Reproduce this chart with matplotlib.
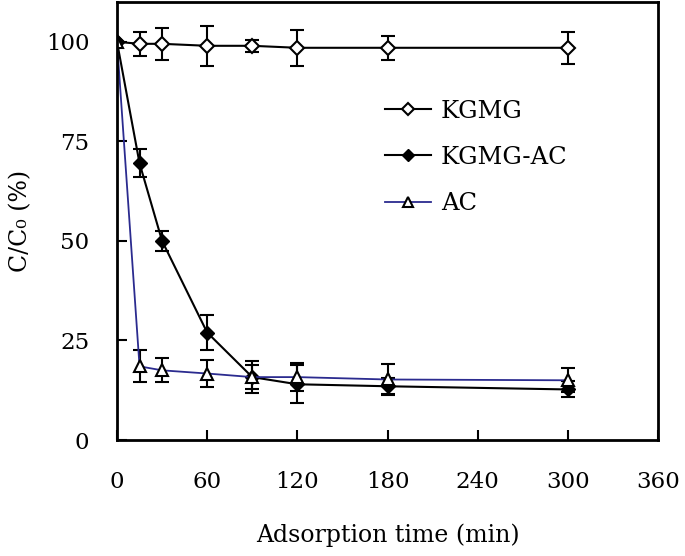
import matplotlib
matplotlib.use('Agg')
import matplotlib.pyplot as plt

plt.rcParams['font.family'] = ['DejaVu Serif']

time = [0, 15, 30, 60, 90, 120, 180, 300]

kgmg = [100, 99.5, 99.5, 99, 99, 98.5, 98.5, 98.5]
kgmg_err = [0, 3, 4, 5, 1.5, 4.5, 3, 4]

kgmg_ac = [100, 69.5, 50, 27, 15.8, 14, 13.5, 12.7]
kgmg_ac_err = [0, 3.5, 2.5, 4.5, 4, 4.8, 2, 2]

ac = [100, 18.5, 17.5, 16.7, 15.8, 15.8, 15.2, 15]
ac_err = [0, 4, 3, 3.5, 3, 3.5, 3.9, 3]

fig = plt.figure(figsize=(6.85, 5.56), dpi=100)
ax = fig.add_axes([0.1708, 0.2086, 0.7898, 0.7878])

e1 = ax.errorbar(time, kgmg, yerr=kgmg_err, color='black', marker='D', markersize=7,
                 markerfacecolor='white', markeredgecolor='black', markeredgewidth=1.5,
                 lw=1.5, ecolor='black', elinewidth=1.5, capsize=5, capthick=1.5)
e2 = ax.errorbar(time, kgmg_ac, yerr=kgmg_ac_err, color='black', marker='D', markersize=7,
                 markerfacecolor='black', markeredgecolor='black',
                 lw=1.5, ecolor='black', elinewidth=1.5, capsize=5, capthick=1.5)
e3 = ax.errorbar(time, ac, yerr=ac_err, color='#2b2b8f', marker='^', markersize=9,
                 markerfacecolor='white', markeredgecolor='black', markeredgewidth=1.5,
                 lw=1.3, ecolor='black', elinewidth=1.5, capsize=5, capthick=1.5)

ax.set_xlim(0, 360)
ax.set_ylim(0, 110)
ax.set_xticks([0, 60, 120, 180, 240, 300, 360])
ax.set_yticks([0, 25, 50, 75, 100])
ax.tick_params(direction='in', length=7, width=1.5, labelsize=16.5)
ax.tick_params(axis='x', pad=22)
ax.tick_params(axis='y', pad=20)
for s in ax.spines.values():
    s.set_linewidth(2)

ax.set_xlabel('Adsorption time (min)', fontsize=17, labelpad=22)
ax.set_ylabel('C/C\u2080 (%)', fontsize=17, labelpad=10)

ax.legend([e1.lines[0], e2.lines[0], e3.lines[0]], ['KGMG', 'KGMG-AC', 'AC'],
          loc='center left', bbox_to_anchor=(0.455, 0.645), frameon=False, fontsize=17.5,
          handlelength=1.9, handletextpad=0.4, labelspacing=0.95, markerscale=0.85)

fig.savefig('out.png', dpi=100)
